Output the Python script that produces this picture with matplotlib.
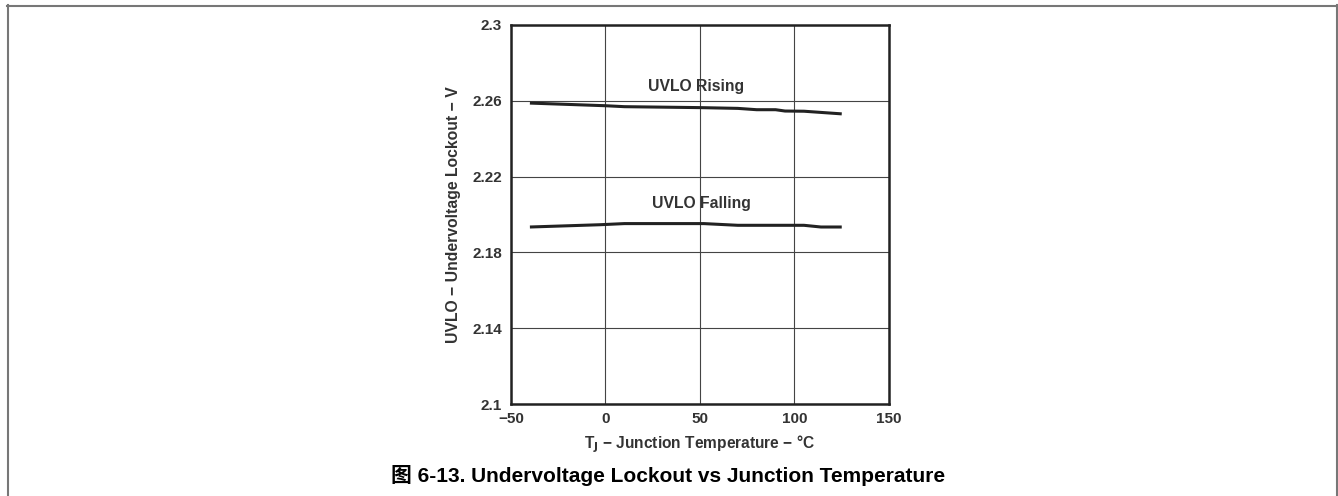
import matplotlib
matplotlib.use("Agg")
import matplotlib.pyplot as plt
from matplotlib.lines import Line2D

plt.rcParams['font.family'] = ['Liberation Sans', 'Noto Sans CJK SC', 'DejaVu Sans']
plt.rcParams['font.weight'] = 'bold'

# Data
rising_t = [-40, 0, 10, 50, 70, 80, 90, 95, 105, 125]
rising_v = [2.2588, 2.2574, 2.2569, 2.2564, 2.2560, 2.2553, 2.2553, 2.2546, 2.2545, 2.2531]
falling_t = [-40, -3, 10, 52, 70, 105, 114, 125]
falling_v = [2.1934, 2.1946, 2.1952, 2.1952, 2.1943, 2.1943, 2.1934, 2.1934]

x_ticks = [-50, 0, 50, 100, 150]
x_ticklabels = ['\u221250', '0', '50', '100', '150']
y_ticks = [2.1, 2.14, 2.18, 2.22, 2.26, 2.3]
y_ticklabels = ['2.1', '2.14', '2.18', '2.22', '2.26', '2.3']

W, H = 1338, 496
fig = plt.figure(figsize=(W / 100, H / 100), dpi=100)
ax = fig.add_axes([511 / W, 1 - 404 / H, (889 - 511) / W, (404 - 25) / H])

ax.plot(rising_t, rising_v, color='#222222', lw=2.2, solid_capstyle='butt')
ax.plot(falling_t, falling_v, color='#222222', lw=2.2, solid_capstyle='butt')

ax.set_xlim(-50, 150)
ax.set_ylim(2.1, 2.3)
ax.set_xticks(x_ticks)
ax.set_xticklabels(x_ticklabels)
ax.set_yticks(y_ticks)
ax.set_yticklabels(y_ticklabels)
ax.tick_params(axis='both', length=0, labelsize=11, colors='#333333')
ax.tick_params(axis='y', pad=6.5)
ax.tick_params(axis='x', pad=6)
for lab in ax.get_xticklabels() + ax.get_yticklabels():
    lab.set_fontweight('bold')
ax.grid(True, color='#444444', lw=0.8)
for s in ax.spines.values():
    s.set_linewidth(1.8)
    s.set_color('#222222')

ax.text(48, 2.2678, 'UVLO Rising', ha='center', va='center', fontsize=11.3, fontweight='bold', color='#333333')
ax.text(51, 2.2059, 'UVLO Falling', ha='center', va='center', fontsize=11.3, fontweight='bold', color='#333333')

ax.set_xlabel('T$_\\mathbf{J}$ \u2212 Junction Temperature \u2212 \u00b0C', fontsize=11.2, fontweight='bold', color='#333333', labelpad=5)
ax.set_ylabel('UVLO \u2212 Undervoltage Lockout \u2212 V', fontsize=11.3, fontweight='bold', color='#333333', labelpad=8)

fig.text(668 / W, 1 - 475 / H, '图 6-13. Undervoltage Lockout vs Junction Temperature',
         ha='center', va='center', fontsize=15, fontweight='bold', color='black')

# outer frame
fc = '#777777'
fig.add_artist(Line2D([7 / W, 1337 / W], [1 - 5.5 / H, 1 - 5.5 / H], color=fc, lw=1.5, transform=fig.transFigure))
fig.add_artist(Line2D([7.5 / W, 7.5 / W], [0, 1 - 5 / H], color=fc, lw=1.5, transform=fig.transFigure))
fig.add_artist(Line2D([1336.5 / W, 1336.5 / W], [0, 1 - 5 / H], color=fc, lw=1.5, transform=fig.transFigure))

fig.savefig('out.png', dpi=100)
